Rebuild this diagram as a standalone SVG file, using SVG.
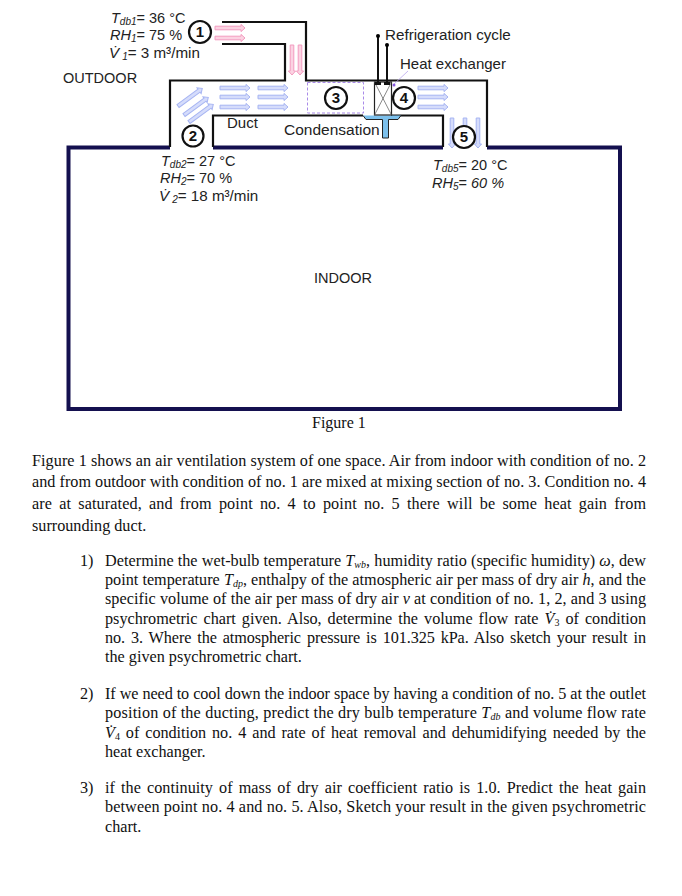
<svg xmlns="http://www.w3.org/2000/svg" width="682" height="896" viewBox="0 0 682 896">
<style>
.l{font-family:"Liberation Sans",Arial,sans-serif;font-size:15px;fill:#222}
.t{font-size:14.500px}
.b{font-family:"Liberation Serif","Times New Roman",serif;font-size:16.200px;fill:#111}
.s{font-size:10px}
.i{font-style:italic}
.w{fill:none;stroke:#111;stroke-width:2.2}
.n{fill:#fff;stroke:#111;stroke-width:2.2}
.nt{font-family:"Liberation Sans",Arial,sans-serif;font-size:15px;font-weight:bold;fill:#111;text-anchor:middle}
.pk{fill:#fbd3e2;stroke:#f39cc0;stroke-width:1}
.bl{fill:#d5dcfb;stroke:#a6b4f2;stroke-width:1}
</style>
<defs>
<path id="a" d="M0-1.8H26V-3.6L30 0 26 3.6V1.8H0Z"/>
</defs>
<rect width="682" height="896" fill="#fff"/>
<g id="building">
<path d="M170 147.500H68.500V409H620V147.500H487M443 147.500H213" fill="none" stroke="#14104f" stroke-width="4"/>
<path class="w" d="M222 22H306V80.500H487V147M222 44H285V80.500H170V147M213 147V115.500H363M391 115.500H443V147"/>
<rect x="307.500" y="82.500" width="56" height="30.500" fill="none" stroke="#a98ae8" stroke-width="1" stroke-dasharray="3 2"/>
</g>
<g id="heat-exchanger">
<path d="M363 115.500L366 119.500H382.500V138H388.500V119.500H398L401 115.500" fill="#7cc0ec" stroke="#222" stroke-width="1"/>
<rect x="374.500" y="82" width="17" height="33" fill="#fff" stroke="#222" stroke-width="1.200"/>
<path d="M374.500 82L391.500 115M391.500 82L374.500 115" stroke="#555" stroke-width="0.700" fill="none"/>
<path d="M378 36V83M387 45V83" stroke="#111" stroke-width="2" fill="none"/>
<circle cx="378" cy="36" r="2"/><circle cx="387" cy="45" r="2"/>
<rect x="375" y="82" width="6" height="3" fill="#111"/><rect x="384" y="82" width="6" height="3" fill="#111"/>
<path d="M393 85L408 71" stroke="#b9a6ee" stroke-width="0.800"/>
<circle cx="394" cy="85" r="1.500" fill="#8a5ae0"/>
</g>
<g id="connectors">
<use href="#a" class="pk" transform="translate(215 28)"/>
<use href="#a" class="pk" transform="translate(215 38)"/>
<use href="#a" class="pk" transform="translate(292 45) rotate(90)"/>
<use href="#a" class="pk" transform="translate(300 45) rotate(90)"/>
<use href="#a" class="bl" transform="translate(178 106) rotate(-36)"/>
<use href="#a" class="bl" transform="translate(184 115) rotate(-36)"/>
<use href="#a" class="bl" transform="translate(189 122) rotate(-36)"/>
<use href="#a" class="bl" transform="translate(220 88)"/>
<use href="#a" class="bl" transform="translate(220 97)"/>
<use href="#a" class="bl" transform="translate(220 107)"/>
<use href="#a" class="bl" transform="translate(258 88)"/>
<use href="#a" class="bl" transform="translate(258 97)"/>
<use href="#a" class="bl" transform="translate(258 107)"/>
<use href="#a" class="bl" transform="translate(418 88)"/>
<use href="#a" class="bl" transform="translate(418 97)"/>
<use href="#a" class="bl" transform="translate(418 107)"/>
<use href="#a" class="bl" transform="translate(452 118) rotate(90)"/>
<use href="#a" class="bl" transform="translate(465 118) rotate(90)"/>
<use href="#a" class="bl" transform="translate(478 118) rotate(90)"/>
</g>
<g id="node-1"><circle class="n" cx="200" cy="32" r="11"/><text class="nt" x="200" y="37">1</text></g>
<g id="node-2"><circle class="n" cx="193" cy="136" r="10.500"/><text class="nt" x="193" y="141">2</text></g>
<g id="node-3"><circle class="n" cx="336" cy="98" r="11"/><text class="nt" x="336" y="103">3</text></g>
<g id="node-4"><circle class="n" cx="404" cy="98" r="11"/><text class="nt" x="404" y="103">4</text></g>
<g id="node-5"><circle class="n" cx="464" cy="137" r="11"/><text class="nt" x="464" y="142">5</text></g>
<g id="labels">
<text class="l t" x="111" y="23"><tspan class="i">T</tspan><tspan class="i s" dy="2">db1</tspan><tspan dy="-2">= 36 °C</tspan></text>
<text class="l t" x="110" y="40"><tspan class="i">RH</tspan><tspan class="i s" dy="2">1</tspan><tspan dy="-2">= 75 %</tspan></text>
<text class="l" x="109" y="58" style="font-size:15.200px"><tspan class="i">V̇</tspan><tspan class="i s" dy="2" dx="3">1</tspan><tspan dy="-2">= 3 m³/min</tspan></text>
<text class="l t" x="63" y="83">OUTDOOR</text>
<text class="l" x="227" y="128">Duct</text>
<text class="l" x="284" y="135" style="font-size:15.500px">Condensation</text>
<text class="l" x="385" y="40" style="font-size:15.200px">Refrigeration cycle</text>
<text class="l" x="400" y="69">Heat exchanger</text>
<text class="l t" x="161" y="166"><tspan class="i">T</tspan><tspan class="i s" dy="2">db2</tspan><tspan dy="-2">= 27 °C</tspan></text>
<text class="l t" x="160" y="183"><tspan class="i">RH</tspan><tspan class="i s" dy="2">2</tspan><tspan dy="-2">= 70 %</tspan></text>
<text class="l" x="159" y="201" style="font-size:15.200px"><tspan class="i">V̇</tspan><tspan class="i s" dy="2" dx="3">2</tspan><tspan dy="-2">= 18 m³/min</tspan></text>
<text class="l t" x="433" y="170"><tspan class="i">T</tspan><tspan class="i s" dy="2">db5</tspan><tspan dy="-2">= 20 °C</tspan></text>
<text class="l t" x="432" y="188"><tspan class="i">RH</tspan><tspan class="i s" dy="2">5</tspan><tspan dy="-2">= </tspan><tspan class="i">60 %</tspan></text>
<text class="l t" x="314" y="283">INDOOR</text>
</g>
<g id="body-text">
<text class="b" x="312" y="428" style="font-size:16px">Figure 1</text>
<text class="b" x="32" y="466" textLength="614">Figure 1 shows an air ventilation system of one space. Air from indoor with condition of no. 2</text>
<text class="b" x="32" y="487" textLength="614">and from outdoor with condition of no. 1 are mixed at mixing section of no. 3. Condition no. 4</text>
<text class="b" x="32" y="509" textLength="614" style="word-spacing:3px">are at saturated, and from point no. 4 to point no. 5 there will be some heat gain from</text>
<text class="b" x="32" y="531">surrounding duct.</text>
<text class="b" x="80" y="566">1)</text>
<text class="b" x="105" y="566" textLength="541">Determine the wet-bulb temperature <tspan class="i">T</tspan><tspan class="i s" dy="2">wb</tspan><tspan dy="-2">, humidity ratio (specific humidity) </tspan><tspan class="i">ω</tspan>, dew</text>
<text class="b" x="105" y="585" textLength="541">point temperature <tspan class="i">T</tspan><tspan class="i s" dy="2">dp</tspan><tspan dy="-2">, enthalpy of the atmospheric air per mass of dry air </tspan><tspan class="i">h</tspan>, and the</text>
<text class="b" x="105" y="604" textLength="541">specific volume of the air per mass of dry air <tspan class="i">v</tspan> at condition of no. 1, 2, and 3 using</text>
<text class="b" x="105" y="624" textLength="541" style="word-spacing:2px">psychrometric chart given. Also, determine the volume flow rate <tspan class="i">V̇</tspan><tspan class="s" dy="2">3</tspan><tspan dy="-2"> of condition</tspan></text>
<text class="b" x="105" y="643" textLength="541" style="word-spacing:2px">no. 3. Where the atmospheric pressure is 101.325 kPa. Also sketch your result in</text>
<text class="b" x="105" y="662">the given psychrometric chart.</text>
<text class="b" x="80" y="699">2)</text>
<text class="b" x="105" y="699" textLength="541">If we need to cool down the indoor space by having a condition of no. 5 at the outlet</text>
<text class="b" x="105" y="718" textLength="541">position of the ducting, predict the dry bulb temperature <tspan class="i">T</tspan><tspan class="i s" dy="2">db</tspan><tspan dy="-2"> and volume flow rate</tspan></text>
<text class="b" x="105" y="738" textLength="541" style="word-spacing:2px"><tspan class="i">V̇</tspan><tspan class="s" dy="2">4</tspan><tspan dy="-2"> of condition no. 4 and rate of heat removal and dehumidifying needed by the</tspan></text>
<text class="b" x="105" y="757">heat exchanger.</text>
<text class="b" x="80" y="793">3)</text>
<text class="b" x="105" y="793" textLength="541" style="word-spacing:2px">if the continuity of mass of dry air coefficient ratio is 1.0. Predict the heat gain</text>
<text class="b" x="105" y="812" textLength="541">between point no. 4 and no. 5. Also, Sketch your result in the given psychrometric</text>
<text class="b" x="105" y="832">chart.</text>
</g>
</svg>
